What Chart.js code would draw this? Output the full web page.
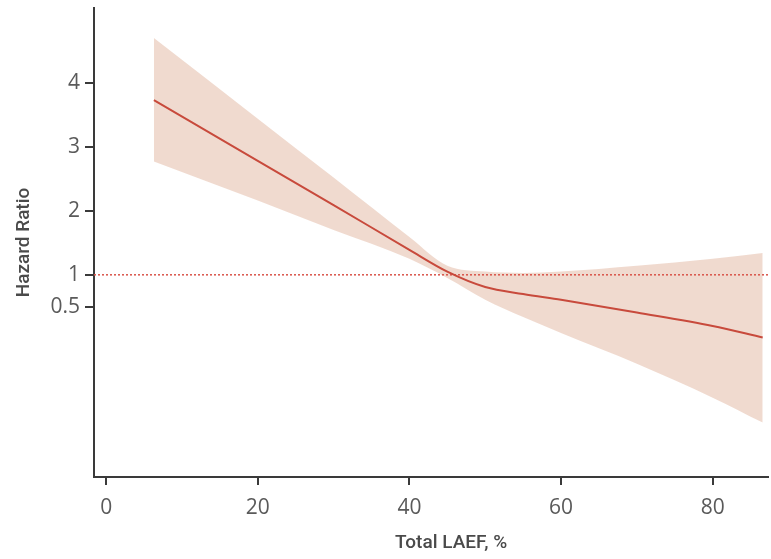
<!DOCTYPE html>
<html>
<head>
<meta charset="utf-8">
<script src="https://cdn.jsdelivr.net/npm/chart.js@4.4.1/dist/chart.umd.min.js"></script>
<style>
  html, body { margin: 0; padding: 0; background: #fff; }
  #wrap { width: 771px; height: 559px; position: relative; }
</style>
</head>
<body>
<div id="wrap"><canvas id="hrChart"></canvas></div>
<script>
// ==== Data ====
const laef     = [6.3, 20, 30, 40, 45, 50, 55, 60, 70, 80, 86.6];      // Total LAEF, %
const hrMain   = [3.73, 2.78, 2.09, 1.39, 1.05, 0.81, 0.70, 0.61, 0.41, 0.20, 0.02];
const hrUpper  = [4.70, 3.44, 2.52, 1.59, 1.14, 1.05, 1.03, 1.05, 1.14, 1.25, 1.34];
const hrLower  = [2.77, 2.16, 1.70, 1.25, 0.95, 0.61, 0.34, 0.09, -0.39, -0.92, -1.31];
const refLine  = [-1.6, 87.3];    // x span of the HR = 1 reference
const refValue = 1;

const xTicks = [0, 20, 40, 60, 80];
const yTicks = [0.5, 1, 2, 3, 4];

// ==== Styles ====
const LINE_RED = '#c84a3c';
const BAND_FILL = 'rgba(238, 214, 202, 0.9)';
const AXIS_COL = '#3a3a3a';
const TICK_TXT = '#5a5a5a';

const pts = (ys) => laef.map((x, i) => ({ x, y: ys[i] }));

// draws the x title slightly right of chart-area centre, like the original
const xTitlePlugin = {
  id: 'xTitle',
  afterDraw(chart) {
    const { ctx, scales } = chart;
    ctx.save();
    ctx.font = '500 19px Roboto, "Open Sans", sans-serif';
    ctx.fillStyle = '#4a4a4a';
    ctx.textAlign = 'center';
    ctx.textBaseline = 'middle';
    ctx.fillText('Total LAEF, %', scales.x.getPixelForValue(45.5), 543);
    ctx.restore();
  }
};

const ctx = document.getElementById('hrChart').getContext('2d');
new Chart(ctx, {
  type: 'line',
  data: {
    datasets: [
      { label: 'upper', data: pts(hrUpper), borderWidth: 0, pointRadius: 0, fill: '+1',
        backgroundColor: BAND_FILL, borderColor: 'transparent', cubicInterpolationMode: 'monotone', order: 3 },
      { label: 'lower', data: pts(hrLower), borderWidth: 0, pointRadius: 0, fill: false,
        borderColor: 'transparent', cubicInterpolationMode: 'monotone', order: 3 },
      { label: 'ref', data: refLine.map(x => ({ x, y: refValue })), borderWidth: 1.5,
        borderColor: '#d9534a', borderDash: [2, 2], pointRadius: 0, fill: false, order: 2 },
      { label: 'HR', data: pts(hrMain), borderWidth: 2, borderColor: LINE_RED, pointRadius: 0,
        fill: false, cubicInterpolationMode: 'monotone', order: 1 }
    ]
  },
  options: {
    responsive: true,
    maintainAspectRatio: false,
    animation: false,
    layout: { padding: { top: 8, right: 3, left: 0, bottom: 0 } },
    plugins: { legend: { display: false }, tooltip: { enabled: false } },
    scales: {
      x: {
        type: 'linear', min: -1.6, max: 87.3,
        afterBuildTicks: (s) => { s.ticks = xTicks.map(v => ({ value: v })); },
        afterFit: (s) => { s.height = 82; s.paddingLeft = 0; s.paddingRight = 0; },
        border: { display: true, color: AXIS_COL, width: 2 },
        grid: { display: true, drawOnChartArea: false, drawTicks: true, tickLength: 8, color: AXIS_COL, lineWidth: 2 },
        ticks: { color: TICK_TXT, font: { family: '"Open Sans", sans-serif', size: 21 }, padding: 10, maxRotation: 0 },
        title: { display: false }
      },
      y: {
        type: 'linear', min: -2.16, max: 5.17,
        afterBuildTicks: (s) => { s.ticks = yTicks.map(v => ({ value: v })); },
        // drop the half-label space Chart.js reserves at the ends
        afterFit: (s) => { s.width = 94; s.paddingTop = 0; s.paddingBottom = 0; },
        border: { display: true, color: AXIS_COL, width: 2 },
        grid: { display: true, drawOnChartArea: false, drawTicks: true, tickLength: 9, color: AXIS_COL, lineWidth: 2 },
        ticks: { color: TICK_TXT, font: { family: '"Open Sans", sans-serif', size: 21 }, padding: 5,
                 callback: (v) => String(v) },
        title: { display: true, text: 'Hazard Ratio', color: '#4a4a4a',
                 font: { family: 'Roboto, "Open Sans", sans-serif', size: 19, weight: '500' },
                 padding: { top: 13, bottom: 0 } }
      }
    }
  },
  plugins: [xTitlePlugin]
});
</script>
</body>
</html>
